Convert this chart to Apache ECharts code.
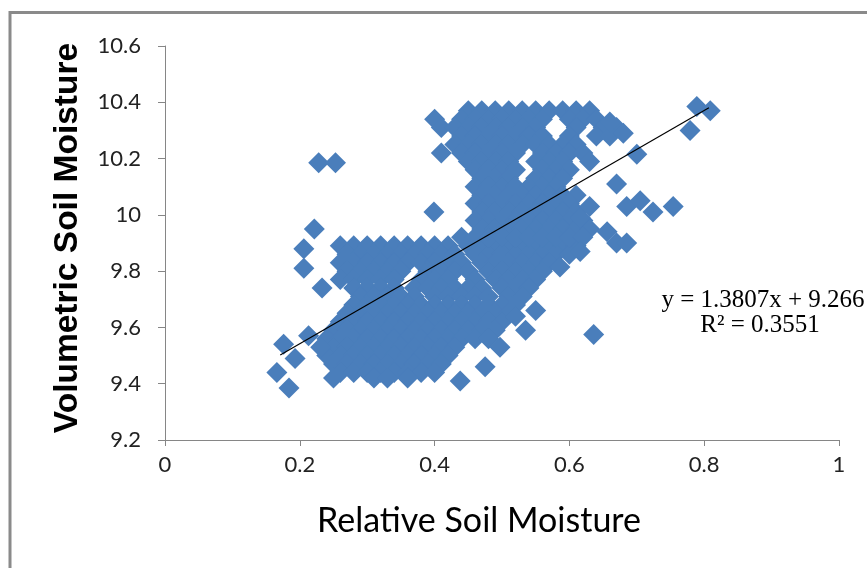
<!DOCTYPE html>
<html><head><meta charset="utf-8">
<script src="https://cdn.jsdelivr.net/npm/echarts@6/dist/echarts.min.js"></script>
<style>html,body{margin:0;padding:0;background:#fff}#c{width:867px;height:568px}</style>
</head><body><div id="c"></div>
<script>
// Tick labels
const xTicks = [0, 0.2, 0.4, 0.6, 0.8, 1];
const yTicks = [9.2, 9.4, 9.6, 9.8, 10, 10.2, 10.4, 10.6];
// Trendline (from displayed equation)
const slope = 1.3807, intercept = 9.266;
const trendX = [0.171, 0.807];
// Scattered outlying points [relative, volumetric]
const outliers = [
 [0.166,9.44],[0.176,9.54],[0.184,9.385],[0.193,9.49],[0.206,9.88],[0.206,9.81],
 [0.213,9.57],[0.2215,9.95],[0.228,10.185],[0.231,9.53],[0.233,9.74],[0.253,10.185],
 [0.399,10.01],[0.438,9.41],[0.475,9.46],[0.497,9.53],[0.52,9.64],[0.535,9.59],
 [0.55,9.66],[0.586,9.815],[0.616,9.87],[0.636,9.575],[0.656,9.94],[0.67,10.11],
 [0.67,9.90],[0.685,9.90],[0.685,10.03],[0.70,10.215],[0.705,10.05],[0.724,10.01],
 [0.754,10.03],[0.779,10.30],[0.789,10.385],[0.809,10.37],[0.68,10.29],[0.66,10.33],
 [0.616,9.99],[0.63,10.03]
];
// Upper cluster, by row: [volumetric, [relative...]]
const upperRows = [
 [10.37,[0.45,0.47,0.49,0.51,0.53,0.55,0.57,0.59,0.61,0.63]],
 [10.34,[0.40,0.44,0.46,0.48,0.50,0.52,0.54,0.56,0.60,0.62,0.64]],
 [10.31,[0.41,0.43,0.45,0.47,0.49,0.51,0.53,0.55,0.61,0.65,0.67]],
 [10.28,[0.44,0.46,0.48,0.50,0.52,0.54,0.56,0.60,0.64,0.66]],
 [10.25,[0.43,0.45,0.47,0.49,0.51,0.53,0.55,0.57,0.59,0.61]],
 [10.22,[0.41,0.44,0.46,0.48,0.50,0.52,0.56,0.58,0.60,0.62]],
 [10.19,[0.45,0.47,0.49,0.51,0.55,0.57,0.59,0.63]],
 [10.16,[0.46,0.48,0.50,0.52,0.56,0.58,0.60]],
 [10.13,[0.47,0.49,0.51,0.55,0.57,0.59]],
 [10.10,[0.46,0.48,0.50,0.52,0.54,0.56,0.58]],
 [10.07,[0.47,0.49,0.51,0.53,0.55,0.57,0.59,0.61]],
 [10.04,[0.46,0.48,0.50,0.52,0.54,0.56,0.58,0.60]],
 [10.01,[0.47,0.49,0.51,0.53,0.55,0.57,0.59,0.61]],
 [9.98,[0.46,0.48,0.50,0.52,0.54,0.56,0.58,0.60,0.62]],
 [9.95,[0.47,0.49,0.51,0.53,0.55,0.57,0.59,0.61,0.63]],
 [9.92,[0.44,0.46,0.48,0.50,0.52,0.54,0.56,0.58,0.60,0.62]]
];
// Lower cluster, by row
const lowerRows = [
 [9.89,[0.26,0.28,0.30,0.32,0.34,0.36,0.38,0.40,0.42,0.45,0.47,0.49,0.51,0.53,0.55,0.57,0.59,0.61]],
 [9.86,[0.27,0.29,0.31,0.33,0.35,0.37,0.39,0.41,0.43,0.46,0.48,0.50,0.52,0.54,0.56,0.58,0.60]],
 [9.83,[0.26,0.28,0.30,0.32,0.34,0.36,0.38,0.40,0.42,0.44,0.47,0.49,0.51,0.53,0.55,0.57]],
 [9.80,[0.27,0.29,0.31,0.33,0.35,0.39,0.41,0.43,0.45,0.48,0.50,0.52,0.54,0.56]],
 [9.77,[0.26,0.28,0.30,0.32,0.34,0.38,0.40,0.42,0.46,0.49,0.51,0.53,0.55]],
 [9.74,[0.28,0.30,0.32,0.34,0.37,0.39,0.41,0.43,0.45,0.47,0.50,0.52,0.54]],
 [9.71,[0.29,0.31,0.33,0.35,0.37,0.40,0.42,0.44,0.46,0.48,0.51,0.53]],
 [9.68,[0.28,0.30,0.32,0.34,0.36,0.38,0.40,0.42,0.44,0.46,0.48,0.50,0.52]],
 [9.65,[0.27,0.29,0.31,0.33,0.35,0.37,0.39,0.41,0.43,0.45,0.47,0.49,0.51]],
 [9.62,[0.26,0.28,0.30,0.32,0.34,0.36,0.38,0.40,0.42,0.44,0.46,0.48,0.50]],
 [9.59,[0.25,0.27,0.29,0.31,0.33,0.35,0.37,0.39,0.41,0.43,0.45,0.47,0.49]],
 [9.56,[0.24,0.26,0.28,0.30,0.32,0.34,0.36,0.38,0.40,0.42,0.44,0.46,0.48]],
 [9.53,[0.25,0.27,0.29,0.31,0.33,0.35,0.37,0.39,0.41,0.43]],
 [9.50,[0.24,0.26,0.28,0.30,0.32,0.34,0.36,0.38,0.40,0.42]],
 [9.47,[0.25,0.27,0.29,0.31,0.33,0.35,0.37,0.39,0.41]],
 [9.44,[0.26,0.28,0.30,0.32,0.34,0.36,0.38,0.40]],
 [9.42,[0.25,0.31,0.33,0.36]]
];

const toPoints = rows => rows.flatMap(([y, xs]) => xs.map(x => [x, y]));
const fmt = v => String(+v.toFixed(1));
const chart = echarts.init(document.getElementById('c'));
chart.setOption({
  animation:false,
  backgroundColor:'#fff',
  grid:{left:165,right:28,top:46,bottom:128},
  xAxis:{type:'value',min:xTicks[0],max:xTicks[xTicks.length-1],interval:0.2,
    axisLine:{lineStyle:{color:'#868686',width:1}},axisTick:{show:true,length:6,lineStyle:{color:'#868686'}},
    splitLine:{show:false},
    axisLabel:{formatter:fmt,fontFamily:'Lato',fontSize:22,color:'#222',margin:14}},
  yAxis:{type:'value',min:yTicks[0],max:yTicks[yTicks.length-1],interval:0.2,
    axisLine:{show:true,lineStyle:{color:'#868686',width:1}},
    axisTick:{show:true,length:7,lineStyle:{color:'#868686'}},
    splitLine:{show:false},
    axisLabel:{formatter:fmt,fontFamily:'Lato',fontSize:22,color:'#222',margin:24}},
  series:[
    {type:'scatter',symbol:'diamond',symbolSize:21,
     itemStyle:{color:'#4A7EBB',opacity:1,borderWidth:0},
     emphasis:{disabled:true},
     data:toPoints(lowerRows).concat(toPoints(upperRows),outliers)},
    {type:'line',symbol:'none',lineStyle:{color:'#000',width:1.2},z:5,
     data:trendX.map(x=>[x,slope*x+intercept])}
  ],
  graphic:[
    {type:'line',shape:{x1:10,y1:12.5,x2:900,y2:12.5},style:{stroke:'#8a8a8a',lineWidth:3},silent:true},
    {type:'line',shape:{x1:10,y1:11,x2:10,y2:600},style:{stroke:'#8a8a8a',lineWidth:3},silent:true},
    {type:'text',x:68,y:238,rotation:Math.PI/2,style:{text:'Volumetric Soil Moisture',fontFamily:'Liberation Sans',fontWeight:'bold',fontSize:33.5,fill:'#000',align:'center',verticalAlign:'middle'}},
    {type:'text',x:479,y:521,style:{text:'Relative Soil Moisture',fontFamily:'Lato',fontSize:34,fill:'#000',align:'center',verticalAlign:'middle'}},
    {type:'text',x:763,y:300,style:{text:'y = 1.3807x + 9.266',fontFamily:'Liberation Serif',fontSize:25,fill:'#000',align:'center',verticalAlign:'middle'}},
    {type:'text',x:760,y:325,style:{text:'R² = 0.3551',fontFamily:'Liberation Serif',fontSize:25,fill:'#000',align:'center',verticalAlign:'middle'}}
  ]
});
</script></body></html>
